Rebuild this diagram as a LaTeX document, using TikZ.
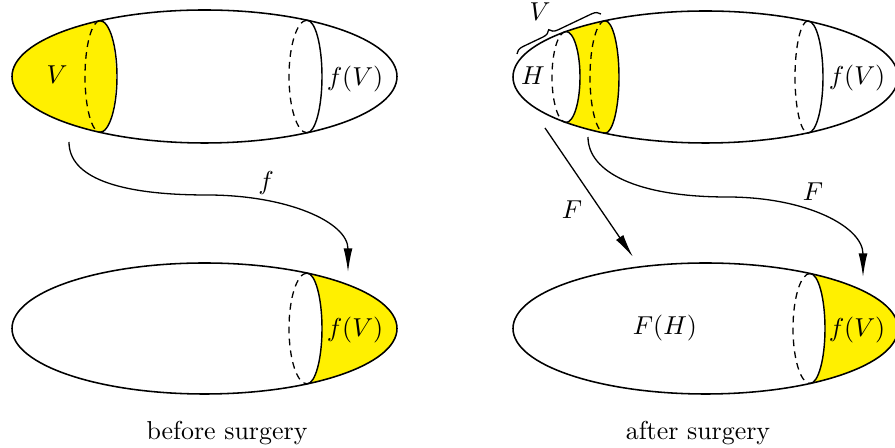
\documentclass[tikz,border=0pt]{standalone}
\usepackage{amsmath}
\usepackage{xcolor}
\usepackage{tikz}
\usetikzlibrary{arrows.meta,decorations.pathreplacing}
\definecolor{Cap}{HTML}{FFF000}

\tikzset{
  surf/.style={line width=0.6pt},
  front/.style={line width=0.55pt},
  back/.style={line width=0.5pt,dash pattern=on 2.6pt off 2pt},
  map/.style={line width=0.5pt,-{Latex[length=3.2mm,width=1.2mm]}},
}

\begin{document}
\begin{tikzpicture}[x=0.386pt,y=0.386pt]
\useasboundingbox (0,0) rectangle (895,448);

% before surgery, top
\begin{scope}
  \clip (204.5,371.5) ellipse (192.5 and 66.5);
  \fill[Cap] (0,300) rectangle (100,448);
  \fill[Cap] (100,371.5) ellipse (16 and 55.8);
\end{scope}
\draw[surf] (204.5,371.5) ellipse (192.5 and 66.5);
\draw[front] (100,427.3) arc[start angle=90,end angle=-90,x radius=17,y radius=55.8];
\draw[back] (100,427.3) arc[start angle=90,end angle=270,x radius=15,y radius=55.8];
\draw[front] (307,427.8) arc[start angle=90,end angle=-90,x radius=15,y radius=56.3];
\draw[back] (307,427.8) arc[start angle=90,end angle=270,x radius=18,y radius=56.3];
\node (v1) at (57,373) {$V$};
\node (fv1) at (355,369) {$f(V)$};

% before surgery, bottom
\begin{scope}
  \clip (204.5,119.5) ellipse (192.5 and 65.5);
  \fill[Cap] (307,40) rectangle (400,200);
  \fill[white] (307,119.5) ellipse (15 and 55.4);
\end{scope}
\draw[surf] (204.5,119.5) ellipse (192.5 and 65.5);
\draw[front] (307,174.9) arc[start angle=90,end angle=-90,x radius=15,y radius=55.4];
\draw[back] (307,174.9) arc[start angle=90,end angle=270,x radius=18,y radius=55.4];
\node (fv2) at (355,118) {$f(V)$};
\node (bs) at (227,15) {before surgery};

% after surgery, top
\begin{scope}
  \clip (705.5,371) ellipse (192.5 and 66);
  \fill[Cap] (566,300) rectangle (605,448);
  \fill[Cap] (605,371) ellipse (14 and 56.3);
  \fill[white] (566,371) ellipse (14 and 45.5);
\end{scope}
\draw[surf] (705.5,371) ellipse (192.5 and 66);
\draw[front] (566,416.5) arc[start angle=90,end angle=-90,x radius=14,y radius=45.5];
\draw[back] (566,416.5) arc[start angle=90,end angle=270,x radius=14,y radius=45.5];
\draw[front] (605,427.3) arc[start angle=90,end angle=-90,x radius=14,y radius=56.3];
\draw[back] (605,427.3) arc[start angle=90,end angle=270,x radius=15,y radius=56.3];
\draw[front] (808,427.1) arc[start angle=90,end angle=-90,x radius=15,y radius=56.1];
\draw[back] (808,427.1) arc[start angle=90,end angle=270,x radius=13,y radius=56.1];
\node (h) at (533,372) {$H$};
\node (fv3) at (857,370) {$f(V)$};
\draw[line width=0.5pt,decorate,decoration={brace,amplitude=3.2pt,aspect=0.42}]
  (517,394) -- (601,434);
\node (v2) at (540,436) {$V$};

% after surgery, bottom
\begin{scope}
  \clip (705.5,119.5) ellipse (192.5 and 65.5);
  \fill[Cap] (810,40) rectangle (900,200);
  \fill[white] (810,119.5) ellipse (15 and 55);
\end{scope}
\draw[surf] (705.5,119.5) ellipse (192.5 and 65.5);
\draw[front] (810,174.5) arc[start angle=90,end angle=-90,x radius=15,y radius=55];
\draw[back] (810,174.5) arc[start angle=90,end angle=270,x radius=17,y radius=55];
\node (fh) at (665,120) {$F(H)$};
\node (fv4) at (857,118) {$f(V)$};
\node (as) at (698,15) {after surgery};

% maps
\coordinate (fs) at (69,306);
\coordinate (fe) at (348,176);
\coordinate (gs) at (545,320);
\coordinate (ge) at (633,191);
\coordinate (hs) at (588,311);
\coordinate (he) at (863,171);
\draw[map] (fs) .. controls (69,271) and (117,253) .. (207,253)
  .. controls (287,253) and (348,226) .. (fe);
\node (f) at (266,265) {$f$};
\draw[map] (gs) -- (ge);
\node (F1) at (572,238) {$F$};
\draw[map] (hs) .. controls (588,276) and (637,251) .. (727,251)
  .. controls (807,251) and (863,221) .. (he);
\node (F2) at (813,256) {$F$};
\end{tikzpicture}
\end{document}
